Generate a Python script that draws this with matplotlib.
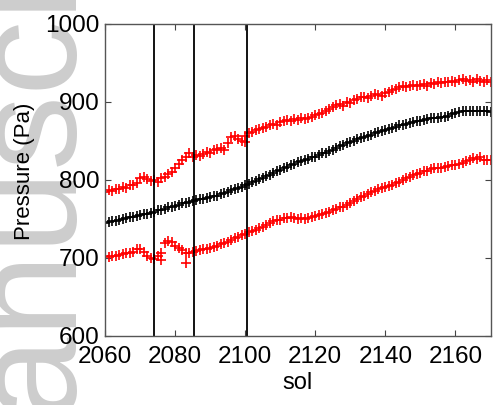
import matplotlib
matplotlib.use("Agg")
import matplotlib.pyplot as plt
import numpy as np

plt.rcParams['font.family'] = ['Liberation Sans', 'DejaVu Sans']

sol_start = 2060
upper = [785, 787, 786, 789, 788, 791, 790, 793, 794, 796,
         802, 804, 801, 799, 800, 798, 802, 804, 808, 810,
         815, 821, 826, 830, 834, 829, 832, 831, 833, 836,
         835, 838, 840, 841, 839, 848, 855, 856, 853, 850,
         857, 860, 862, 864, 866, 867, 868, 871, 872, 870,
         874, 876, 877, 875, 878, 877, 879, 878, 880, 881,
         883, 885, 886, 888, 891, 893, 896, 898, 895, 900,
         899, 902, 904, 906, 907, 905, 908, 910, 909, 908,
         911, 913, 915, 917, 919, 920, 919, 921, 922, 920,
         922, 923, 921, 924, 923, 925, 924, 926, 925, 927,
         926, 928, 929, 927, 928, 926, 929, 927, 926, 928,
         925]
mean = [745, 746, 747, 748, 749, 750, 751, 752, 753, 754,
        755, 756, 757, 758, 759, 761, 762, 763, 765, 766,
        767, 768, 770, 771, 772, 773, 774, 775, 776, 777,
        778, 779, 780, 782, 783, 785, 787, 788, 790, 791,
        793, 795, 797, 799, 801, 803, 805, 807, 809, 811,
        813, 815, 817, 819, 821, 823, 824, 826, 827, 829,
        830, 832, 834, 835, 837, 839, 841, 843, 845, 847,
        849, 850, 852, 854, 855, 857, 858, 860, 861, 863,
        864, 866, 867, 868, 870, 871, 872, 873, 874, 875,
        876, 877, 878, 879, 880, 880, 881, 881, 882, 884,
        886, 887, 888, 888, 888, 888, 888, 888, 888, 888,
        887]
lower = [702, 701, 703, 702, 704, 705, 706, 707, 708, 711,
         712, 708, 703, 700, 699, 702, 706, 719, 722, 720,
         716, 713, 710, 707, 706, 708, 709, 710, 711, 712,
         713, 714, 716, 718, 719, 721, 723, 725, 727, 729,
         731, 733, 735, 736, 738, 740, 742, 745, 747, 749,
         749, 751, 751, 752, 751, 750, 751, 750, 751, 752,
         754, 755, 757, 758, 759, 761, 763, 765, 766, 768,
         770, 773, 776, 778, 780, 782, 784, 786, 788, 790,
         791, 792, 794, 796, 798, 800, 802, 804, 806, 808,
         809, 811, 812, 814, 815, 816, 815, 817, 818, 819,
         819, 820, 822, 824, 826, 828, 827, 829, 826, 825,
         826]
extra_sols = [2076, 2083, 2100]
extra_vals = [697, 693, 849]
event_sols = [2074, 2085.5, 2100.5]
xticks = [2060, 2080, 2100, 2120, 2140, 2160]
yticks = [600, 700, 800, 900, 1000]

sols = np.arange(sol_start, sol_start + len(mean))

fig = plt.figure(figsize=(4.94, 4.05), dpi=100)
wm = fig.text(0.132, -0.314, "Manuscript", rotation=90, rotation_mode='anchor',
              ha='left', va='baseline', fontsize=108, color='#cdcdcd')
wm.set_zorder(-10)
ax = fig.add_axes([0.2126, 0.1704, 0.7804, 0.7704])
ax.set_facecolor('none')
ax.set_zorder(1)

mk = dict(linestyle='none', marker='+', markersize=7, markeredgewidth=1.2)
ax.plot(sols, upper, color='#ff0000', **mk)
ax.plot(sols, lower, color='#ff0000', **mk)
ax.plot(extra_sols, extra_vals, color='#ff0000', **mk)
ax.plot(sols, mean, color='black', **mk)
for s in event_sols:
    ax.axvline(s, color='black', linewidth=1.3)

ax.set_xlim(2060, 2170)
ax.set_ylim(600, 1000)
ax.set_xticks(xticks)
ax.set_yticks(yticks)
ax.tick_params(direction='in', length=4, width=0.8, top=True, right=True,
               labelsize=17.5, colors='#444444', labelcolor='black')
ax.tick_params(axis='x', pad=7)
ax.tick_params(axis='y', pad=4)
for sp in ax.spines.values():
    sp.set_color('#555555')
    sp.set_linewidth(1.0)
ax.set_xlabel('sol', fontsize=17, labelpad=3)
ax.set_ylabel('Pressure (Pa)', fontsize=16)
ax.yaxis.set_label_coords(-0.182, 0.529)

fig.savefig('out.png', dpi=100)
